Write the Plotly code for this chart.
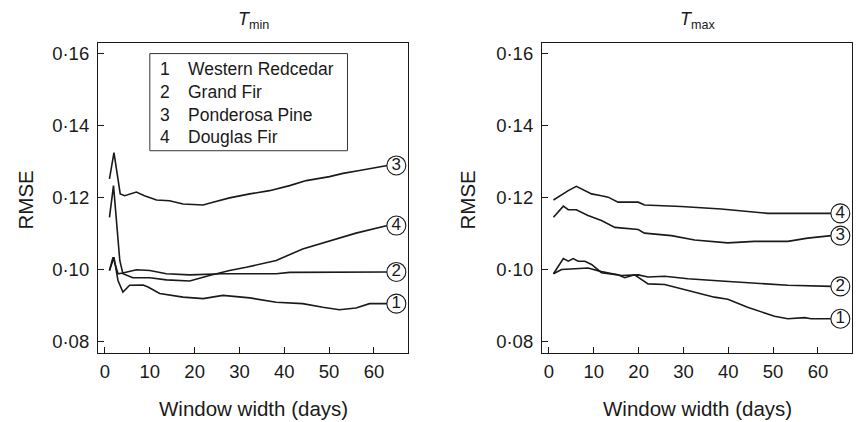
import plotly.graph_objects as go

# ---------------- data ----------------
species = ["Western Redcedar", "Grand Fir", "Ponderosa Pine", "Douglas Fir"]
species_ids = ["1", "2", "3", "4"]

# T_min panel
tmin_x_1 = [1, 2, 2.9, 4, 5.5, 8.5, 9.6, 12.2, 17.4, 21.9, 26.3, 32.3, 38.2, 44.1, 48.6, 52.3, 56, 59, 63]
tmin_y_1 = [0.0997, 0.1034, 0.0969, 0.0937, 0.0956, 0.0957, 0.0951, 0.0933, 0.0923, 0.0919, 0.0928, 0.0921,
            0.0909, 0.0905, 0.0895, 0.0888, 0.0893, 0.0905, 0.0905]
tmin_x_2 = [1, 1.8, 2.9, 4, 7, 10, 13.7, 18.9, 26.3, 33.7, 38.2, 41.2, 48.6, 56, 63]
tmin_y_2 = [0.0997, 0.1034, 0.0988, 0.0990, 0.0999, 0.0997, 0.0988, 0.0985, 0.0988, 0.0988, 0.0988, 0.0992,
            0.0993, 0.0993, 0.0993]
tmin_x_3 = [1, 2, 3.4, 4.4, 7, 8.8, 11.5, 14.4, 17.4, 21.9, 24.1, 27.8, 32.3, 36.7, 41.2, 44.9, 50.1, 53.1,
            56.8, 60.5, 63]
tmin_y_3 = [0.1252, 0.1325, 0.1210, 0.1205, 0.1215, 0.1205, 0.1193, 0.1191, 0.1182, 0.1179, 0.1187, 0.1199,
            0.1210, 0.1219, 0.1233, 0.1247, 0.1258, 0.1267, 0.1275, 0.1284, 0.1289]
tmin_x_4 = [1, 1.9, 3.3, 4, 6.2, 10, 13.7, 18.9, 23.3, 27.8, 31.5, 38.2, 44.1, 50.1, 56, 63]
tmin_y_4 = [0.1145, 0.1233, 0.1025, 0.0988, 0.0977, 0.0977, 0.0971, 0.0968, 0.0983, 0.0997, 0.1006, 0.1025,
            0.1057, 0.1080, 0.1101, 0.1122]

# T_max panel
tmax_x_1 = [1, 3.2, 4.3, 5.4, 6.5, 8.0, 9.5, 11.7, 15.4, 16.9, 19.1, 22.1, 25.8, 31.0, 36.9, 39.9, 44.3, 50.3,
            53.3, 57.0, 58.5, 63]
tmax_y_1 = [0.0988, 0.1030, 0.1023, 0.1030, 0.1023, 0.1023, 0.1014, 0.0991, 0.0985, 0.0977, 0.0985, 0.0960,
            0.0958, 0.0942, 0.0923, 0.0917, 0.0895, 0.0870, 0.0863, 0.0866, 0.0863, 0.0863]
tmax_x_2 = [1, 2.8, 5.8, 8.7, 11.7, 16.1, 19.9, 22.1, 25.8, 31.0, 38.4, 45.8, 53.3, 63]
tmax_y_2 = [0.0988, 0.1000, 0.1002, 0.1004, 0.0994, 0.0983, 0.0985, 0.0979, 0.0981, 0.0974, 0.0968, 0.0962,
            0.0956, 0.0953]
tmax_x_3 = [1, 3.2, 4.3, 6.1, 8.7, 11.7, 14.7, 19.9, 21.3, 27.3, 32.5, 39.9, 45.8, 53.3, 57.7, 63]
tmax_y_3 = [0.1145, 0.1176, 0.1166, 0.1166, 0.1150, 0.1136, 0.1117, 0.1111, 0.1101, 0.1094, 0.1082, 0.1074,
            0.1078, 0.1078, 0.1087, 0.1094]
tmax_x_4 = [1, 2.8, 4.3, 6.1, 8.0, 9.5, 11.7, 13.2, 15.4, 19.9, 21.3, 29.5, 38.4, 48.8, 63]
tmax_y_4 = [0.1193, 0.1208, 0.1219, 0.1231, 0.1219, 0.1210, 0.1205, 0.1201, 0.1187, 0.1187, 0.1179, 0.1175,
            0.1168, 0.1156, 0.1156]

y_tick_vals = [0.08, 0.10, 0.12, 0.14, 0.16]
y_tick_text = ["0·08", "0·10", "0·12", "0·14", "0·16"]
x_tick_vals = [0, 10, 20, 30, 40, 50, 60]
x_tick_text = ["0", "10", "20", "30", "40", "50", "60"]

panel_titles = ["<i>T</i><sub>min</sub>", "<i>T</i><sub>max</sub>"]
x_title = "Window width (days)"
y_title = "RMSE"

# ---------------- figure ----------------
FONT = "Liberation Sans, Arial, Helvetica, sans-serif"
INK = "#1a1a1a"
LABEL_X = 65

fig = go.Figure()

panels = [
    ("x", "y", [(tmin_x_1, tmin_y_1), (tmin_x_2, tmin_y_2), (tmin_x_3, tmin_y_3), (tmin_x_4, tmin_y_4)]),
    ("x2", "y2", [(tmax_x_1, tmax_y_1), (tmax_x_2, tmax_y_2), (tmax_x_3, tmax_y_3), (tmax_x_4, tmax_y_4)]),
]

for xa, ya, series in panels:
    for (xs, ys), name in zip(series, species):
        fig.add_trace(go.Scatter(x=xs, y=ys, mode="lines", name=name, xaxis=xa, yaxis=ya,
                                 line=dict(color=INK, width=1.6), showlegend=False, hoverinfo="skip"))
    fig.add_trace(go.Scatter(
        x=[LABEL_X] * len(series), y=[s[1][-1] for s in series], xaxis=xa, yaxis=ya,
        mode="markers+text", text=species_ids, textposition="middle center",
        textfont=dict(family=FONT, size=17, color=INK),
        marker=dict(symbol="circle", size=19, color="white", line=dict(color=INK, width=1.1)),
        showlegend=False, hoverinfo="skip", cliponaxis=False))

axis_common = dict(range=[-1.56, 67.6], tickvals=x_tick_vals, ticktext=x_tick_text, ticks="inside", ticklen=6,
                   tickcolor=INK, showline=True, linecolor=INK, linewidth=1.2, mirror=True, showgrid=False,
                   zeroline=False, ticklabelstandoff=2, tickfont=dict(family=FONT, size=18.5, color=INK))
yaxis_common = dict(range=[0.07678, 0.16294], tickvals=y_tick_vals, ticktext=y_tick_text, ticks="inside",
                    ticklen=6, tickcolor=INK, showline=True, linecolor=INK, linewidth=1.2, mirror=True,
                    showgrid=False, zeroline=False, ticklabelstandoff=4,
                    tickfont=dict(family=FONT, size=18.5, color=INK))

L, R, T, B = 98, 5, 43, 69
W, H = 857, 422
pw = W - L - R
ph = H - T - B
d1 = [0, 310 / pw]
d2 = [(542 - L) / pw, 1]

fig.update_layout(
    width=W, height=H, margin=dict(l=L, r=R, t=T, b=B),
    paper_bgcolor="white", plot_bgcolor="white",
    font=dict(family=FONT, color=INK),
    xaxis=dict(domain=d1, anchor="y", **axis_common),
    yaxis=dict(domain=[0, 1], anchor="x", **yaxis_common),
    xaxis2=dict(domain=d2, anchor="y2", **axis_common),
    yaxis2=dict(domain=[0, 1], anchor="x2", **yaxis_common),
)

# legend box in the left panel
fig.add_shape(type="rect", xref="x", yref="y", x0=10, x1=54.1, y0=0.133, y1=0.160,
              line=dict(color="#333", width=1), fillcolor="white", layer="above")
leg_y = [0.1557, 0.1492, 0.1430, 0.1367]
for sid, name, yy in zip(species_ids, species, leg_y):
    fig.add_annotation(x=13.4, y=yy, xref="x", yref="y", text=sid, showarrow=False,
                       xanchor="center", yanchor="middle", font=dict(family=FONT, size=17.5, color=INK))
    fig.add_annotation(x=18.1, y=yy, xref="x", yref="y", text=name, showarrow=False,
                       xanchor="left", yanchor="middle", font=dict(family=FONT, size=17.5, color=INK))

# panel titles and axis titles
centers = [(d1[0] + d1[1]) / 2, (d2[0] + d2[1]) / 2]
ytitle_x = [(24.5 - L) / pw, (466.5 - L) / pw]
for c, t, yx in zip(centers, panel_titles, ytitle_x):
    fig.add_annotation(x=c, y=1 + 22 / ph, xref="paper", yref="paper", text=t, showarrow=False,
                       xanchor="center", yanchor="middle", font=dict(family=FONT, size=18, color=INK))
    fig.add_annotation(x=c, y=-(408 - (H - B)) / ph, xref="paper", yref="paper", text=x_title,
                       showarrow=False, xanchor="center", yanchor="middle",
                       font=dict(family=FONT, size=20.5, color=INK))
    fig.add_annotation(x=yx, y=0.5 - (200 - (T + ph / 2)) / ph, xref="paper", yref="paper", text=y_title,
                       textangle=-90, showarrow=False, xanchor="center", yanchor="middle",
                       font=dict(family=FONT, size=20.5, color=INK))

fig.write_html("out.html", config={"displayModeBar": False},
               post_script="document.body.style.margin='0';document.body.style.padding='0';")
